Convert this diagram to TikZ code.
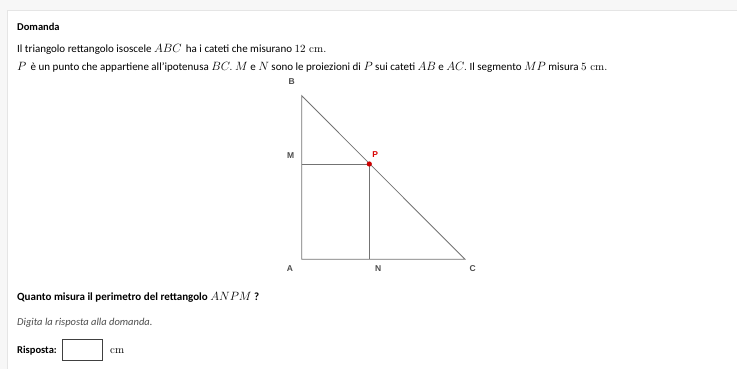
\documentclass[tikz,border=0pt]{standalone}
\usepackage{fontspec}
\setmainfont{Carlito}
\newfontfamily\lab{Liberation Sans}
\newfontfamily\lmr{Latin Modern Roman}
\newcommand{\mth}[1]{{\fontsize{12.5}{13}\selectfont$#1$}}
\begin{document}
\begin{tikzpicture}[x=1pt,y=-1pt,
  txt/.style={anchor=base west,inner sep=0pt,font=\fontsize{11}{13}\selectfont},
  vlab/.style={inner sep=0pt,font=\lab\bfseries\fontsize{8.5}{10}\selectfont,text=black!70},
  seg/.style={draw=black!55,line width=0.8pt}]
\useasboundingbox (0,0) rectangle (737,369);
\fill[black!3] (0,0) rectangle (737,369);
\fill[white,draw=black!10] (7,10) rectangle (740,372);
% texts
\node[txt,font=\bfseries\fontsize{10.5}{12}\selectfont] (t0) at (17,31) {Domanda};
\node[txt] (t1) at (17,53) {Il triangolo rettangolo isoscele \mth{ABC}\, ha i cateti che misurano {\lmr 12 cm.}};
\node[txt] (t2) at (17,70.5) {\mth{P}\, è un punto che appartiene all'ipotenusa \mth{BC.} \mth{M} e \mth{N} sono le proiezioni di \mth{P} sui cateti \mth{AB} e \mth{AC.} Il segmento \mth{MP} misura {\lmr 5 cm.}};
% figure
\coordinate (A) at (301.7,259.3);
\coordinate (B) at (301.7,95.7);
\coordinate (C) at (465,259.3);
\coordinate (M) at (301.7,164);
\coordinate (N) at (369.3,259.3);
\coordinate (P) at (369.3,164);
\draw[seg] (B) -- (A) -- (C) -- cycle;
\draw[seg] (M) -- (P) -- (N);
\fill[red!80!black] (P) circle (2.6);
\node[vlab] (lB) at (291.7,81.7) {B};
\node[vlab] (lM) at (290.7,156) {M};
\node[vlab] (lA) at (290,269) {A};
\node[vlab] (lN) at (378.3,269) {N};
\node[vlab] (lC) at (472.7,269) {C};
\node[vlab,text=red!85!black] (lP) at (375.3,154.3) {P};
% bottom
\node[txt,font=\bfseries\fontsize{11}{13}\selectfont] (q) at (17,300) {Quanto misura il perimetro del rettangolo \mth{ANPM} ?};
\node[txt,font=\itshape\fontsize{10.5}{12}\selectfont,text=black!70] (d) at (17,325) {Digita la risposta alla domanda.};
\node[txt,font=\bfseries\fontsize{10.5}{12}\selectfont] (r) at (17,353) {Risposta:};
\draw[black!75,line width=0.9pt] (62,339) rectangle (102,360);
\node[txt] (cm) at (110,353) {\lmr cm};
\end{tikzpicture}
\end{document}
